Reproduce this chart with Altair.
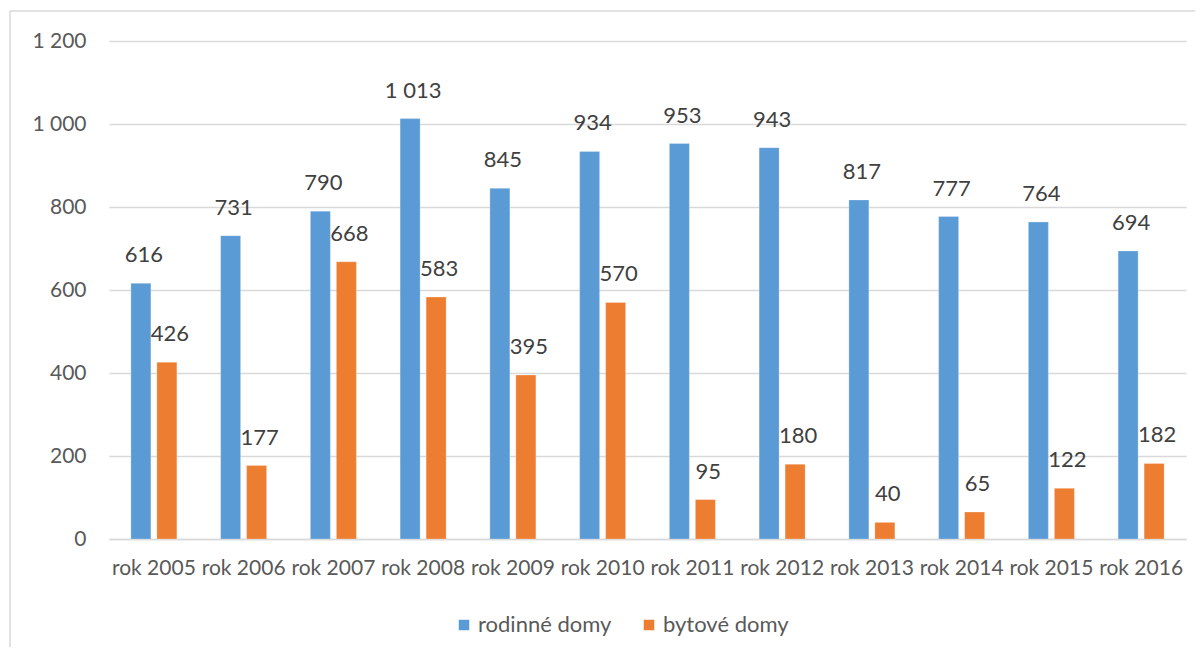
import altair as alt
import pandas as pd

years = ["rok 2005", "rok 2006", "rok 2007", "rok 2008", "rok 2009", "rok 2010",
         "rok 2011", "rok 2012", "rok 2013", "rok 2014", "rok 2015", "rok 2016"]
rodinne = [616, 731, 790, 1013, 845, 934, 953, 943, 817, 777, 764, 694]
bytove = [426, 177, 668, 583, 395, 570, 95, 180, 40, 65, 122, 182]
series = ["rodinné domy", "bytové domy"]
colors = ["#5B9BD5", "#ED7D31"]
y_ticks = [0, 200, 400, 600, 800, 1000, 1200]

rows = []
for i, y in enumerate(years):
    rows.append({"rok": y, "typ": series[0], "v": rodinne[i]})
    rows.append({"rok": y, "typ": series[1], "v": bytove[i]})
df = pd.DataFrame(rows)

FONT = "Lato"

base = alt.Chart(df).encode(
    x=alt.X("rok:N", sort=years, title=None,
            scale=alt.Scale(paddingInner=0.4875, paddingOuter=0.24375),
            axis=alt.Axis(labelAngle=0, labelFontSize=21, labelColor="#595959",
                          labelFont=FONT, labelPadding=18, ticks=False,
                          domainColor="#d9d9d9", domainWidth=1.5)),
    xOffset=alt.XOffset("typ:N", sort=series,
                        scale=alt.Scale(paddingInner=6 / 26, paddingOuter=0)),
)

bars = base.mark_bar(stroke="white", strokeOpacity=0.5, strokeWidth=0.5).encode(
    y=alt.Y("v:Q", title=None,
            scale=alt.Scale(domain=[0, 1200], nice=False),
            axis=alt.Axis(values=y_ticks, ticks=False, domain=False,
                          gridColor="#d9d9d9", gridWidth=1.5,
                          labelFontSize=21, labelColor="#595959", labelFont=FONT,
                          labelPadding=23,
                          labelExpr="replace(format(datum.value, ','), ',', ' ')")),
    color=alt.Color("typ:N", sort=series,
                    scale=alt.Scale(domain=series, range=colors),
                    legend=alt.Legend(title=None, orient="none", direction="horizontal",
                                      legendX=344, legendY=573,
                                      symbolType="square", symbolSize=110,
                                      symbolStrokeWidth=0, labelFontSize=22,
                                      labelFont=FONT, labelColor="#595959",
                                      columnPadding=26, labelOffset=3)),
)

labels = base.transform_calculate(
    lbl="replace(format(datum.v, ','), ',', ' ')"
).mark_text(baseline="bottom", dy=-16, dx=3, fontSize=22, font=FONT,
            color="#404040").encode(
    y=alt.Y("v:Q"),
    text="lbl:N",
)

frame_df = pd.DataFrame({"a": [0]})
frame_left = alt.Chart(frame_df).mark_rule(color="#d9d9d9", strokeWidth=1.5).encode(
    x=alt.value(-99), y=alt.value(-30), y2=alt.value(640))
frame_top = alt.Chart(frame_df).mark_rule(color="#d9d9d9", strokeWidth=1.5).encode(
    x=alt.value(-99), x2=alt.value(1100), y=alt.value(-30))

chart = alt.layer(frame_left, frame_top, bars, labels).properties(
    width=1077, height=498,
    autosize=alt.AutoSizeParams(type="none"),
    padding={"left": 101, "top": 33, "right": 9, "bottom": 108},
).configure_view(stroke=None)

chart.save("out.html", embed_options={"renderer": "svg", "actions": False})
